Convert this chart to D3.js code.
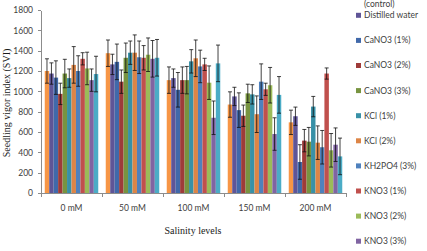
<!DOCTYPE html>
<html>
<head>
<meta charset="utf-8">
<script src="https://cdn.jsdelivr.net/npm/d3@7"></script>
<style>
  body { margin: 0; background: #fff; }
  svg { display: block; }
  .axis path, .axis line { stroke: #8c8c8c; shape-rendering: crispEdges; }
  .axis text { font-family: Lato, "Open Sans", sans-serif; font-size: 8.5px; fill: #404040; }
  .legend text { font-family: Lato, "Open Sans", sans-serif; font-size: 8.5px; fill: #404040; }
  .title { font-family: "Liberation Serif", "DejaVu Serif", serif; font-size: 10px; fill: #1a1a1a; }
</style>
</head>
<body>
<div id="chart"></div>
<script>
var w = 427;
var h = 251;

// salinity levels (x categories)
var levels = ["0 mM", "50 mM", "100 mM", "150 mM", "200 mM"];

// priming treatments, in bar / legend order
var treatments = ["Untreated\n(control)", "Distilled water", "CaNO3 (1%)", "CaNO3 (2%)", "CaNO3 (3%)",
                  "KCl (1%)", "KCl (2%)", "KH2PO4 (3%)", "KNO3 (1%)", "KNO3 (2%)", "KNO3 (3%)", "KH2PO4 (1%)"];
var colors = ["#f79646", "#5f5597", "#4169aa", "#9e3b39", "#789440", "#3891a7",
              "#dd8546", "#4f81bd", "#c0504d", "#9bbb59", "#8064a2", "#4bacc6"];

// seedling vigor index, one array per salinity level (treatment order)
var svi0   = [1200, 1175, 1135, 975, 1175, 1130, 1260, 1200, 1320, 1225, 1110, 1170];
var svi50  = [1375, 1265, 1290, 1095, 1330, 1380, 1380, 1335, 1330, 1360, 1320, 1330];
var svi100 = [1110, 1130, 1015, 1110, 1110, 1295, 1325, 1245, 1265, 1085, 740, 1275];
var svi150 = [870, 950, 815, 760, 980, 970, 775, 1095, 1020, 1060, 580, 965];
var svi200 = [695, 755, 305, 515, 505, 850, 495, 450, 1175, 420, 475, 360];

// error bar half widths
var err0   = [120, 105, 165, 105, 140, 90, 180, 150, 60, 160, 110, 175];
var err50  = [130, 100, 175, 115, 145, 115, 175, 160, 120, 165, 180, 180];
var err100 = [130, 90, 170, 130, 135, 115, 180, 160, 60, 165, 165, 180];
var err150 = [125, 90, 170, 105, 90, 95, 180, 175, 60, 175, 160, 180];
var err200 = [120, 90, 170, 110, 140, 100, 165, 165, 55, 165, 165, 180];

var yTicks = [0, 200, 400, 600, 800, 1000, 1200, 1400, 1600, 1800];

var sviByLevel = [svi0, svi50, svi100, svi150, svi200];
var errByLevel = [err0, err50, err100, err150, err200];

var rows = [];
levels.forEach(function(lv, i) {
    treatments.forEach(function(t, j) {
        rows.push({ level: lv, treatment: t, value: sviByLevel[i][j], err: errByLevel[i][j], color: colors[j] });
    });
});

var x0 = d3.scaleBand().domain(levels).range([41, 346]).paddingInner(0).paddingOuter(0);
var x1 = d3.scaleBand().domain(treatments).range([0, x0.bandwidth()]).paddingInner(0).paddingOuter(0.84);
var yScale = d3.scaleLinear().domain([0, 1800]).range([193, 10]);

var svg = d3.select("#chart")
    .append("svg")
    .attr("width", w)
    .attr("height", h);

// bars
svg.append("g")
    .selectAll("rect")
    .data(rows)
    .enter().append("rect")
    .attr("x", function(d) { return x0(d.level) + x1(d.treatment); })
    .attr("y", function(d) { return yScale(d.value); })
    .attr("width", x1.bandwidth())
    .attr("height", function(d) { return yScale(0) - yScale(d.value); })
    .attr("fill", function(d) { return d.color; });

// error bars
var eb = svg.append("g")
    .attr("stroke", "#111")
    .attr("stroke-width", 0.8)
    .selectAll("g")
    .data(rows)
    .enter().append("g")
    .attr("transform", function(d) {
        return "translate(" + (x0(d.level) + x1(d.treatment) + x1.bandwidth() / 2) + ",0)";
    });

eb.append("line")
    .attr("y1", function(d) { return yScale(d.value - d.err); })
    .attr("y2", function(d) { return yScale(d.value + d.err); });
eb.append("line")
    .attr("x1", -2).attr("x2", 2)
    .attr("y1", function(d) { return yScale(d.value + d.err); })
    .attr("y2", function(d) { return yScale(d.value + d.err); });
eb.append("line")
    .attr("x1", -2).attr("x2", 2)
    .attr("y1", function(d) { return yScale(d.value - d.err); })
    .attr("y2", function(d) { return yScale(d.value - d.err); });

// y axis
var yAxis = d3.axisLeft(yScale).tickValues(yTicks).tickFormat(d3.format("d"))
    .tickSize(3).tickPadding(5).tickSizeOuter(0);
svg.append("g")
    .attr("class", "axis")
    .attr("transform", "translate(41,0)")
    .call(yAxis);

// x axis, labels centred, ticks between categories
var xAxis = d3.axisBottom(x0).tickSize(0).tickPadding(11.5).tickSizeOuter(0);
svg.append("g")
    .attr("class", "axis")
    .attr("transform", "translate(0,193)")
    .call(xAxis);

var bounds = levels.map(function(d) { return x0(d); }).concat([x0(levels[levels.length - 1]) + x0.bandwidth()]);
svg.append("g")
    .attr("class", "axis")
    .selectAll("line")
    .data(bounds)
    .enter().append("line")
    .attr("x1", function(d) { return d; })
    .attr("x2", function(d) { return d; })
    .attr("y1", 193)
    .attr("y2", 197);

// titles
svg.append("text")
    .attr("class", "title")
    .attr("x", 193)
    .attr("y", 234)
    .attr("text-anchor", "middle")
    .text("Salinity levels");

svg.append("text")
    .attr("class", "title")
    .attr("transform", "translate(10,103) rotate(-90)")
    .attr("text-anchor", "middle")
    .text("Seedling vigor index (SVI)");

// legend (the chart is cropped: first entry only shows its last line, last entry is off the bottom)
var lineH = 14;
var legendY = d3.scaleLinear().domain([1, 10]).range([15.3, 241.2]);
var legend = svg.append("g")
    .attr("class", "legend")
    .selectAll("g")
    .data(treatments.filter(function(d, i) { return legendY(i) < h - 6; }))
    .enter().append("g")
    .attr("transform", function(d, i) { return "translate(356," + legendY(i) + ")"; });

legend.filter(function(d, i) { return legendY(i) > 0; })
    .append("rect")
    .attr("x", 0)
    .attr("y", -2.5)
    .attr("width", 5)
    .attr("height", 5)
    .attr("fill", function(d) { return colors[treatments.indexOf(d)]; });

legend.append("text")
    .each(function(d, i) {
        var top = legendY(i);
        d3.select(this).selectAll("tspan")
            .data(d.split("\n").map(function(s, k) { return { s: s, y: k * lineH }; })
                .filter(function(l) { return top + l.y > 0; }))
            .enter().append("tspan")
            .attr("x", 8)
            .attr("y", function(l) { return l.y; })
            .attr("dy", "0.35em")
            .text(function(l) { return l.s; });
    });
</script>
</body>
</html>
